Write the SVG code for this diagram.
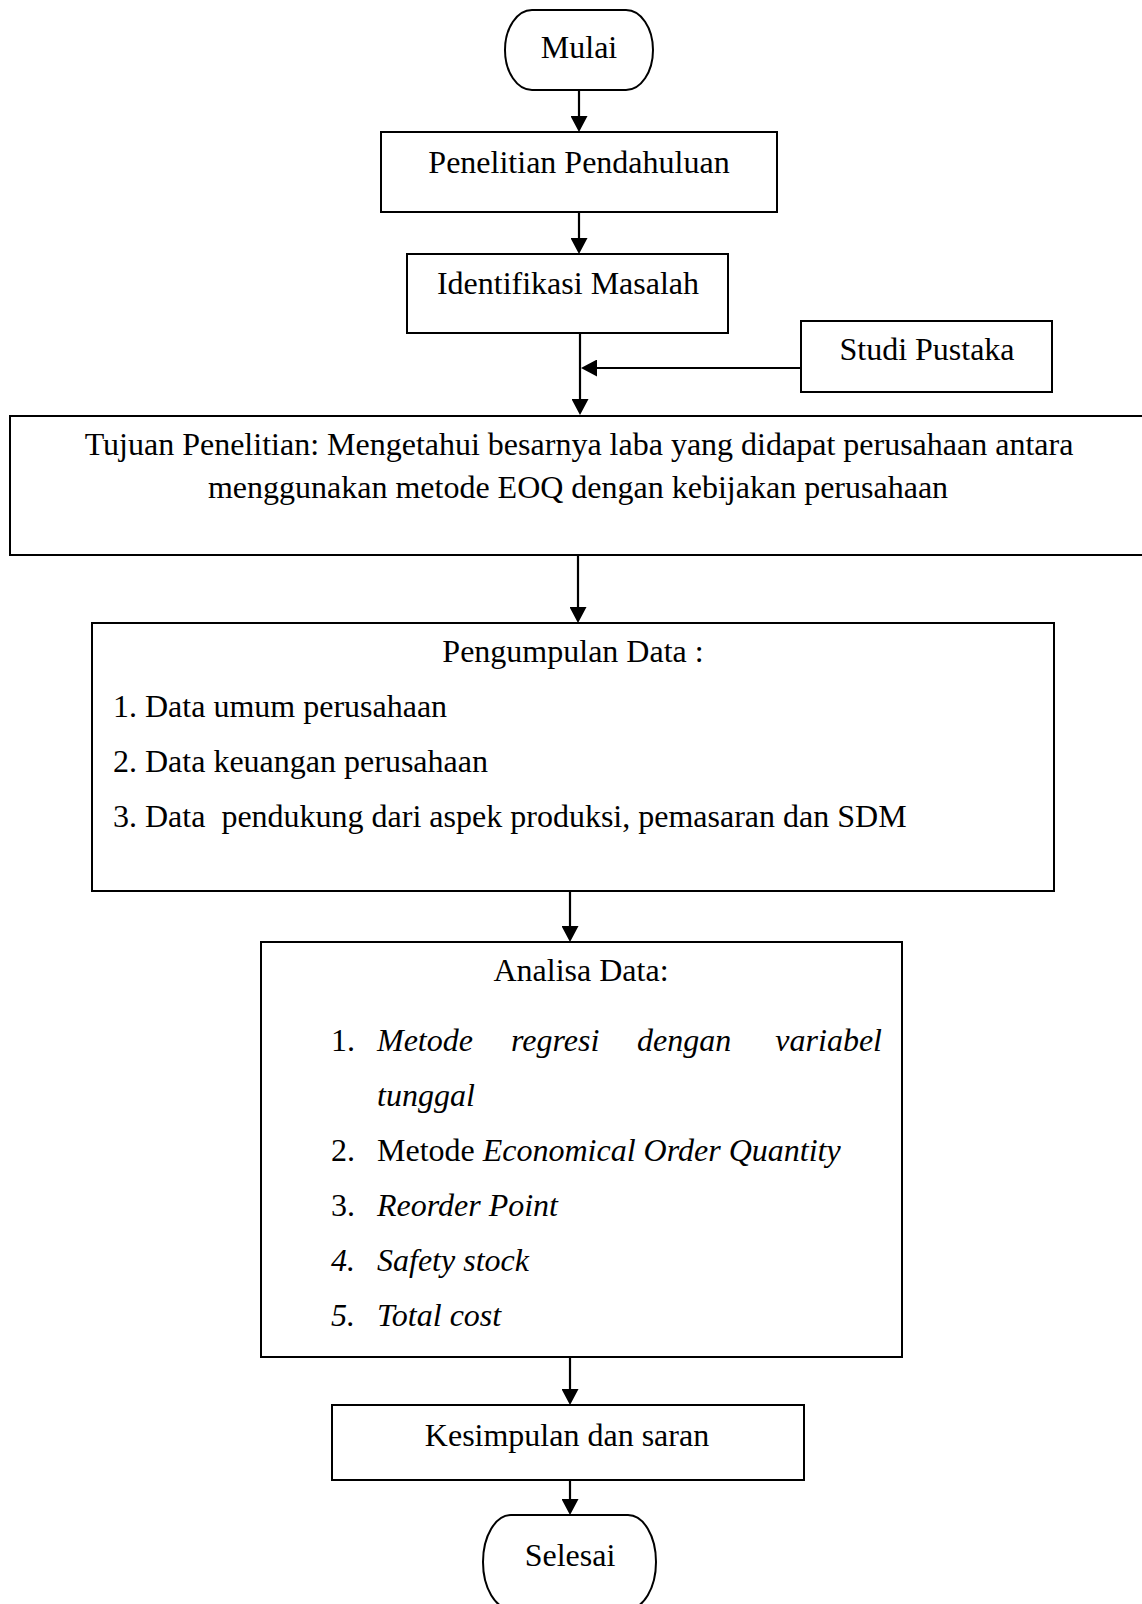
<svg xmlns="http://www.w3.org/2000/svg" width="1142" height="1604" viewBox="0 0 1142 1604">
  <style>
    .box { fill: #ffffff; stroke: #000000; stroke-width: 2; }
    .link { fill: none; stroke: #000000; stroke-width: 2.2; }
    text { font-family: "Liberation Serif", "Times New Roman", serif; font-size: 32px; fill: #000000; }
    .c { text-anchor: middle; }
    .i { font-style: italic; }
  </style>
  <defs>
    <marker id="ah" markerUnits="userSpaceOnUse" markerWidth="17" markerHeight="17" refX="9" refY="8.5" orient="auto">
      <path d="M0,0 L16,8.5 L0,17 z" fill="#000000"/>
    </marker>
  </defs>

  <rect x="0" y="0" width="1142" height="1604" fill="#ffffff"/>

  <!-- connectors -->
  <g id="connectors">
    <line class="link" x1="579" y1="90" x2="579" y2="125" marker-end="url(#ah)"/>
    <line class="link" x1="579" y1="212" x2="579" y2="247" marker-end="url(#ah)"/>
    <line class="link" x1="580" y1="333" x2="580" y2="408" marker-end="url(#ah)"/>
    <line class="link" x1="801" y1="368" x2="588" y2="368" marker-end="url(#ah)"/>
    <line class="link" x1="578" y1="555" x2="578" y2="616" marker-end="url(#ah)"/>
    <line class="link" x1="570" y1="891" x2="570" y2="935" marker-end="url(#ah)"/>
    <line class="link" x1="570" y1="1357" x2="570" y2="1398" marker-end="url(#ah)"/>
    <line class="link" x1="570" y1="1480" x2="570" y2="1508" marker-end="url(#ah)"/>
  </g>

  <!-- start terminator -->
  <g id="mulai">
    <rect class="box" x="505" y="10" width="148" height="80" rx="27" ry="40"/>
    <text class="c" x="579" y="58">Mulai</text>
  </g>

  <g id="penelitian-pendahuluan">
    <rect class="box" x="381" y="132" width="396" height="80"/>
    <text class="c" x="579" y="173">Penelitian Pendahuluan</text>
  </g>

  <g id="identifikasi-masalah">
    <rect class="box" x="407" y="254" width="321" height="79"/>
    <text class="c" x="568" y="294">Identifikasi Masalah</text>
  </g>

  <g id="studi-pustaka">
    <rect class="box" x="801" y="321" width="251" height="71"/>
    <text class="c" x="927" y="360">Studi Pustaka</text>
  </g>

  <g id="tujuan-penelitian">
    <rect class="box" x="10" y="416" width="1150" height="139"/>
    <text class="c" x="579" y="455">Tujuan Penelitian: Mengetahui besarnya laba yang didapat perusahaan antara</text>
    <text class="c" x="578" y="498">menggunakan metode EOQ dengan kebijakan perusahaan</text>
  </g>

  <g id="pengumpulan-data">
    <rect class="box" x="92" y="623" width="962" height="268"/>
    <text class="c" x="573" y="662">Pengumpulan Data :</text>
    <text x="113" y="717">1. Data umum perusahaan</text>
    <text x="113" y="772">2. Data keuangan perusahaan</text>
    <text x="113" y="827" xml:space="preserve">3. Data  pendukung dari aspek produksi, pemasaran dan SDM</text>
  </g>

  <g id="analisa-data">
    <rect class="box" x="261" y="942" width="641" height="415"/>
    <text class="c" x="581" y="981">Analisa Data:</text>
    <text y="1051"><tspan x="331">1.</tspan><tspan class="i" x="377">Metode</tspan><tspan class="i" x="511">regresi</tspan><tspan class="i" x="637">dengan</tspan><tspan class="i" x="882" text-anchor="end">variabel</tspan></text>
    <text class="i" x="377" y="1106">tunggal</text>
    <text y="1161"><tspan x="331">2.</tspan><tspan x="377">Metode </tspan><tspan class="i">Economical Order Quantity</tspan></text>
    <text y="1216"><tspan x="331">3.</tspan><tspan class="i" x="377">Reorder Point</tspan></text>
    <text class="i" y="1271"><tspan x="331">4.</tspan><tspan x="377">Safety stock</tspan></text>
    <text class="i" y="1326"><tspan x="331">5.</tspan><tspan x="377">Total cost</tspan></text>
  </g>

  <g id="kesimpulan-saran">
    <rect class="box" x="332" y="1405" width="472" height="75"/>
    <text class="c" x="567" y="1446">Kesimpulan dan saran</text>
  </g>

  <!-- end terminator -->
  <g id="selesai">
    <rect class="box" x="483" y="1515" width="173" height="94" rx="28" ry="47"/>
    <text class="c" x="570" y="1566">Selesai</text>
  </g>
</svg>
